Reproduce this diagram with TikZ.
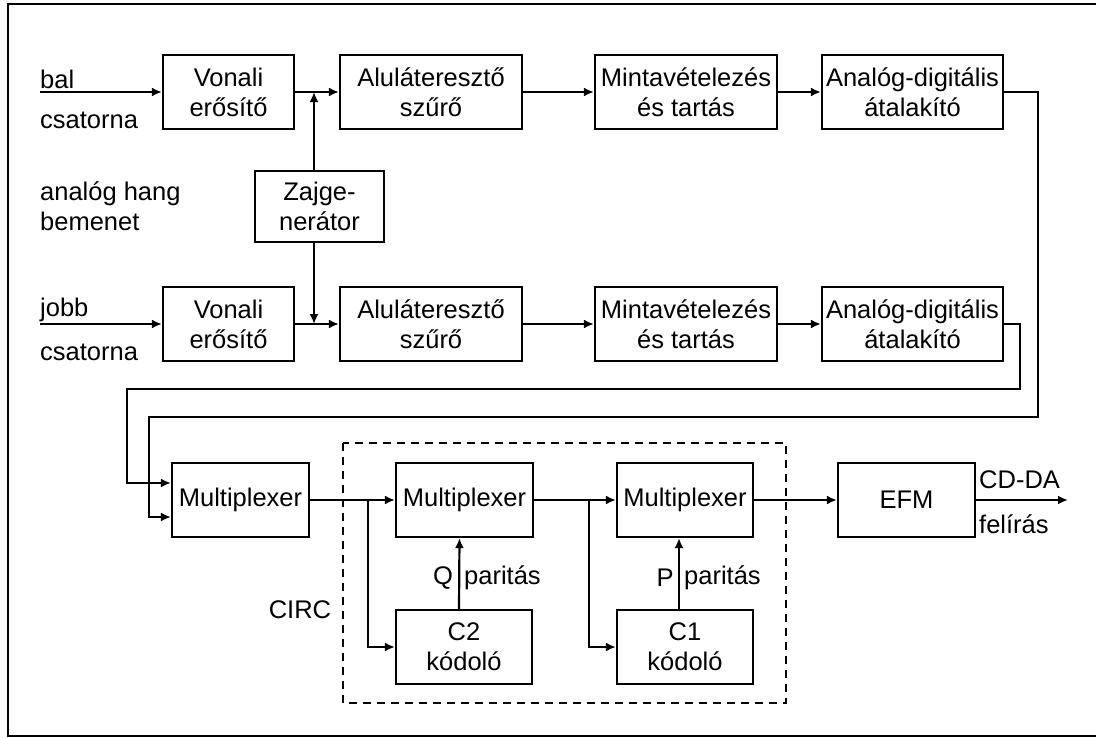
\documentclass[tikz,border=0pt]{standalone}
\usepackage{fontspec}
\setmainfont{Liberation Sans}
\usetikzlibrary{arrows.meta,calc}
\begin{document}
\begin{tikzpicture}[x=1pt,y=-1pt,
  lw/.style={line width=2.2pt},
  blk/.style={draw,lw,align=center,inner sep=0pt,font=\fontsize{25.5}{30}\selectfont},
  lbl/.style={inner sep=0pt,font=\fontsize{25.5}{30}\selectfont},
  arr/.style={lw,-{Latex[length=10pt,width=9pt]}}]
\useasboundingbox (0,0) rectangle (1096,737);
% frame
\draw[line width=2.4pt] (1096,4) -- (8,4) -- (8,736) -- (1096,736);
% row 1
\node[blk,minimum width=131pt,minimum height=74pt] (va1) at (228.5,92) {Vonali\\erősítő};
\node[blk,minimum width=182pt,minimum height=74pt] (al1) at (431,92) {Aluláteresztő\\szűrő};
\node[blk,minimum width=182pt,minimum height=74pt] (mi1) at (686,92) {Mintavételezés\\és tartás};
\node[blk,minimum width=181pt,minimum height=74pt] (ad1) at (912.5,92) {Analóg-digitális\\átalakító};
% noise generator
\node[blk,minimum width=129pt,minimum height=71pt] (zaj) at (319.5,206.5) {Zajge-\\nerátor};
% row 2
\node[blk,minimum width=131pt,minimum height=74pt] (va2) at (228.5,324) {Vonali\\erősítő};
\node[blk,minimum width=182pt,minimum height=74pt] (al2) at (431,324) {Aluláteresztő\\szűrő};
\node[blk,minimum width=182pt,minimum height=74pt] (mi2) at (686,324) {Mintavételezés\\és tartás};
\node[blk,minimum width=181pt,minimum height=74pt] (ad2) at (912.5,324) {Analóg-digitális\\átalakító};
% bottom
\node[blk,minimum width=137pt,minimum height=74pt] (mux1) at (240.5,500) {Multiplexer};
\node[blk,minimum width=137pt,minimum height=74pt] (mux2) at (464.5,500) {Multiplexer};
\node[blk,minimum width=136pt,minimum height=74pt] (c2) at (464,647) {C2\\kódoló};
\node[blk,minimum width=136pt,minimum height=74pt] (mux3) at (685,500) {Multiplexer};
\node[blk,minimum width=136pt,minimum height=74pt] (c1) at (685,647) {C1\\kódoló};
\node[blk,minimum width=137pt,minimum height=74pt] (efm) at (906.5,500) {EFM};
% dashed CIRC box
\draw[lw,dash pattern=on 8pt off 6pt] (343,443) rectangle (786,703);
\node[lbl] (circ) at (300,610) {CIRC};
% left labels
\coordinate (in1) at (40,92);
\coordinate (in2) at (40,324);
\node[lbl,anchor=base west] (bal) at (40,88) {bal};
\node[lbl,anchor=base west] (cs1) at (40,128) {csatorna};
\node[lbl,anchor=base west] (an) at (40,200) {analóg hang};
\node[lbl,anchor=base west] (be) at (40,230) {bemenet};
\node[lbl,anchor=base west] (jo) at (40,316) {jobb};
\node[lbl,anchor=base west] (cs2) at (40,360) {csatorna};
% connectors row 1
\draw[arr] (in1) -- (va1.west);
\draw[arr] (va1.east) -- (al1.west);
\draw[arr] (al1.east) -- (mi1.west);
\draw[arr] (mi1.east) -- (ad1.west);
% row 2
\draw[arr] (in2) -- (va2.west);
\draw[arr] (va2.east) -- (al2.west);
\draw[arr] (al2.east) -- (mi2.west);
\draw[arr] (mi2.east) -- (ad2.west);
% noise generator
\coordinate (j1) at (314,92);
\coordinate (j2) at (314,324);
\draw[arr] (zaj.north -| j1) -- (j1);
\draw[arr] (zaj.south -| j2) -- (j2);
% ADC outputs to multiplexer
\coordinate (m1a) at ([yshift=-17pt]mux1.west);
\coordinate (m1b) at ([yshift=17pt]mux1.west);
\draw[arr] (ad1.east) -- (1038,92) -- (1038,417) -- (149,417) -- (149,0 |- m1a) -- (m1a);
\draw[arr] (ad2.east) -- (1020,324) -- (1020,389) -- (127,389) -- (127,0 |- m1b) -- (m1b);
% CIRC
\coordinate (s1) at (368,500);
\coordinate (s2) at (589,500);
\draw[arr] (mux1.east) -- (mux2.west);
\draw[arr] (s1) -- (s1 |- c2.west) -- (c2.west);
\draw[arr] (mux2.east) -- (mux3.west);
\draw[arr] (s2) -- (s2 |- c1.west) -- (c1.west);
\draw[arr] ([xshift=-5pt]c2.north) -- ([xshift=-5pt]mux2.south);
\draw[arr] ([xshift=-6pt]c1.north) -- ([xshift=-6pt]mux3.south);
\node[lbl] (q) at (443,578) {Q};
\node[lbl,anchor=west] (qp) at (464,578) {paritás};
\node[lbl] (p) at (665,578) {P};
\node[lbl,anchor=west] (pp) at (684,578) {paritás};
% EFM
\coordinate (out) at (1068,500);
\draw[arr] (mux3.east) -- (efm.west);
\draw[arr] (efm.east) -- (out);
\node[lbl,anchor=west] (cdda) at (979,480) {CD-DA};
\node[lbl,anchor=west] (fel) at (979,524) {felírás};
\end{tikzpicture}
\end{document}
